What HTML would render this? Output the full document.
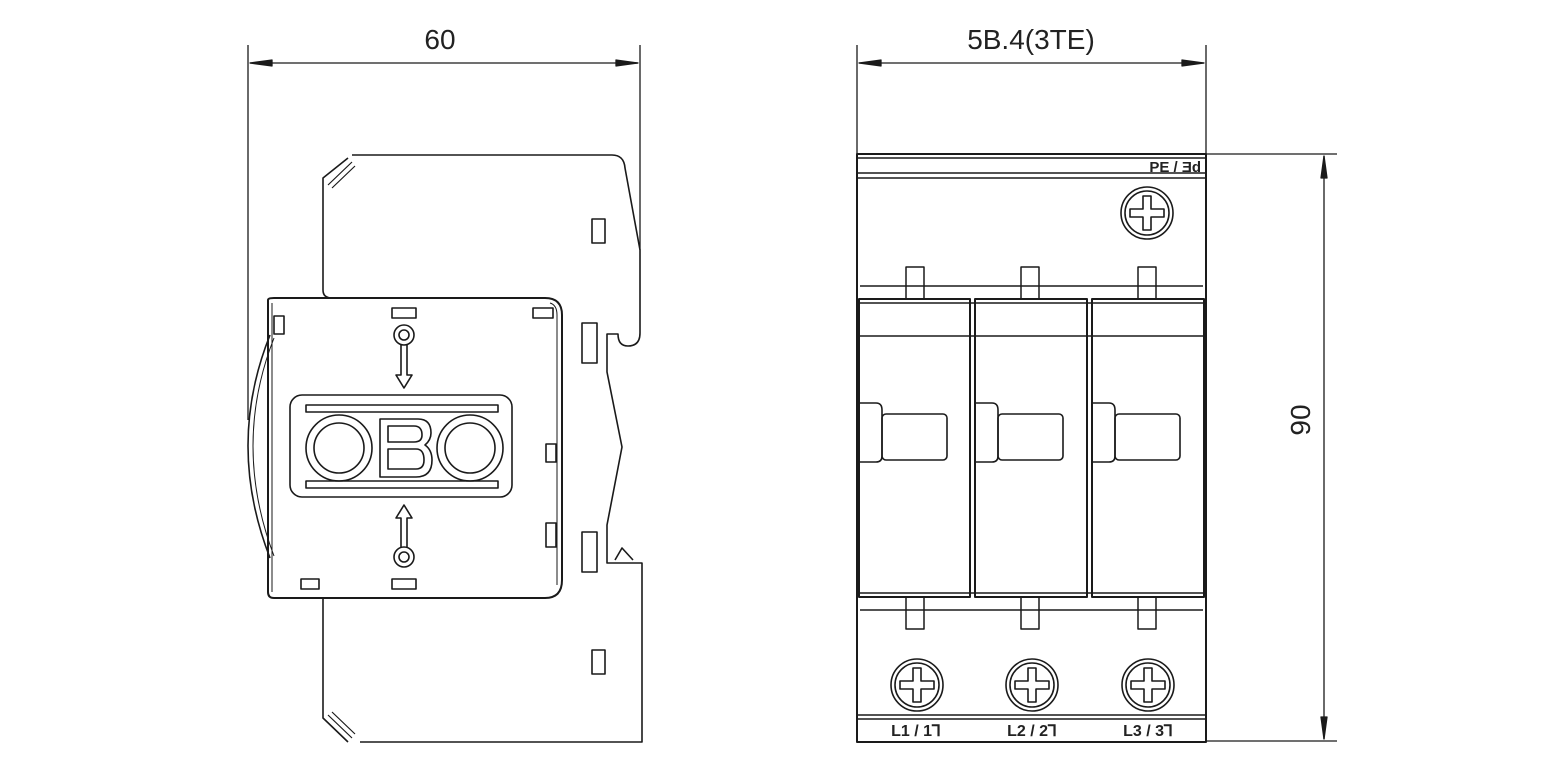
<!DOCTYPE html>
<html><head><style>body{margin:0;background:#fff}svg{display:block}</style></head><body>
<svg width="1542" height="767" viewBox="0 0 1542 767" xmlns="http://www.w3.org/2000/svg" fill="none" stroke="#1a1a1a" stroke-width="1.6" stroke-linejoin="round">
<g stroke-width="1.3">
<line x1="248" y1="45" x2="248" y2="420"/><line x1="640" y1="45" x2="640" y2="250"/>
<line x1="250" y1="63" x2="638" y2="63"/>
<path d="M250 63 L272 60 L272 66 Z M638 63 L616 60 L616 66 Z" fill="#1a1a1a"/>
<line x1="857" y1="45" x2="857" y2="155"/><line x1="1206" y1="45" x2="1206" y2="155"/>
<line x1="859" y1="63" x2="1204" y2="63"/>
<path d="M859 63 L881 60 L881 66 Z M1204 63 L1182 60 L1182 66 Z" fill="#1a1a1a"/>
<line x1="1206" y1="154" x2="1337" y2="154"/><line x1="1206" y1="741" x2="1337" y2="741"/>
<line x1="1324" y1="156" x2="1324" y2="739"/>
<path d="M1324 156 L1321 178 L1327 178 Z M1324 739 L1321 717 L1327 717 Z" fill="#1a1a1a"/>
</g>
<g font-family="Liberation Sans, sans-serif" font-size="28" fill="#222" stroke="none" text-anchor="middle">
<text x="440" y="49">60</text>
<text x="1031" y="49">5B.4(3TE)</text>
<text transform="translate(1310,420) rotate(-90)">90</text>
</g>
<path d="M352 155 L612 155 Q624 155 625 168 L640 250 L640 333 Q640 346 628 346 Q618 346 618 334 L607 334 L607 372 L622 447 L607 525 L607 563 L642 563 L642 742 L360 742"/>
<path d="M348 742 L323 718 L323 598"/>
<path d="M332 298 Q323 298 323 290 L323 178 L348 158"/>
<path d="M328 185 L352 162 M332 188 L355 166" stroke-width="1.2"/>
<path d="M328 715 L352 738 M332 712 L355 734" stroke-width="1.2"/>
<rect x="592" y="219" width="13" height="24"/><rect x="592" y="650" width="13" height="24"/>
<rect x="582" y="323" width="15" height="40"/><rect x="582" y="532" width="15" height="40"/>
<path d="M615 560 L622 548 L633 560"/>
<path d="M268 300 L268 592 Q268 598 274 598 L545 598 Q562 598 562 580 L562 315 Q562 298 545 298 L274 298 Q268 298 268 300 Z" stroke-width="2"/>
<path d="M272 303 L272 592 M550 303 Q557 305 557 315 L557 585" stroke-width="1"/>
<path d="M270 335 Q226 445 270 558" />
<path d="M274 338 Q232 445 274 556" stroke-width="1"/>
<rect x="274" y="316" width="10" height="18"/>
<rect x="392" y="308" width="24" height="10"/><rect x="533" y="308" width="20" height="10"/>
<rect x="392" y="579" width="24" height="10"/><rect x="301" y="579" width="18" height="10"/>
<rect x="546" y="444" width="10" height="18"/><rect x="546" y="523" width="10" height="24"/>
<rect x="290" y="395" width="222" height="102" rx="12"/>
<rect x="306" y="405" width="192" height="7"/><rect x="306" y="481" width="192" height="7"/>
<circle cx="339" cy="448" r="33"/><circle cx="339" cy="448" r="25"/>
<circle cx="470" cy="448" r="33"/><circle cx="470" cy="448" r="25"/>
<path d="M380 419 L418 419 Q431 419 431 433 Q431 440 425 445 Q432 450 432 460 Q432 477 416 477 L380 477 Z"/>
<path d="M388 426 L414 426 Q422 426 422 435 Q422 442 414 442 L388 442 Z M388 449 L416 449 Q424 449 424 460 Q424 469 416 469 L388 469 Z"/>
<circle cx="404" cy="335" r="10"/><circle cx="404" cy="335" r="5"/>
<path d="M401 345 L401 375 L396 375 L404 388 L412 375 L407 375 L407 345"/>
<circle cx="404" cy="557" r="10"/><circle cx="404" cy="557" r="5"/>
<path d="M401 547 L401 518 L396 518 L404 505 L412 518 L407 518 L407 547"/>
<rect x="857" y="154" width="349" height="588" stroke-width="2"/>
<line x1="857" y1="158" x2="1206" y2="158"/><line x1="857" y1="173" x2="1206" y2="173"/><line x1="857" y1="178" x2="1206" y2="178"/>
<text x="1201" y="172" font-family="Liberation Sans, sans-serif" font-size="15" font-weight="bold" fill="#222" stroke="none" text-anchor="end">PE / Ǝd</text>
<line x1="860" y1="286" x2="1203" y2="286"/>
<line x1="860" y1="610" x2="1203" y2="610"/>
<line x1="857" y1="715" x2="1206" y2="715"/><line x1="857" y1="719" x2="1206" y2="719"/>
<g font-family="Liberation Sans, sans-serif" font-size="16" font-weight="bold" fill="#222" stroke="none" text-anchor="middle">
<text x="916" y="736">L1 / 1⅂</text><text x="1032" y="736">L2 / 2⅂</text><text x="1148" y="736">L3 / 3⅂</text>
</g>
<g id="scr">
<circle cx="1147" cy="213" r="26"/><circle cx="1147" cy="213" r="22"/>
<path d="M1143 196 L1151 196 L1151 209 L1164 209 L1164 217 L1151 217 L1151 230 L1143 230 L1143 217 L1130 217 L1130 209 L1143 209 Z"/>
</g>
<use href="#scr" transform="translate(-230,472)"/><use href="#scr" transform="translate(-115,472)"/><use href="#scr" transform="translate(1,472)"/>
<g stroke-width="1.5">
<rect x="906" y="267" width="18" height="32"/><rect x="1021" y="267" width="18" height="32"/><rect x="1138" y="267" width="18" height="32"/>
<rect x="906" y="597" width="18" height="32"/><rect x="1021" y="597" width="18" height="32"/><rect x="1138" y="597" width="18" height="32"/>
</g>
<g stroke-width="2">
<rect x="859" y="299" width="111" height="298"/><rect x="975" y="299" width="112" height="298"/><rect x="1092" y="299" width="112" height="298"/>
</g>
<line x1="860" y1="336" x2="1203" y2="336"/>
<line x1="860" y1="303" x2="1203" y2="303"/><line x1="860" y1="593" x2="1203" y2="593"/>
<g id="h">
<path d="M860 403 L876 403 Q882 403 882 410 L882 456 Q882 462 876 462 L860 462"/>
<rect x="882" y="414" width="65" height="46" rx="4"/>
</g>
<use href="#h" transform="translate(116,0)"/><use href="#h" transform="translate(233,0)"/>
</svg>
</body></html>
